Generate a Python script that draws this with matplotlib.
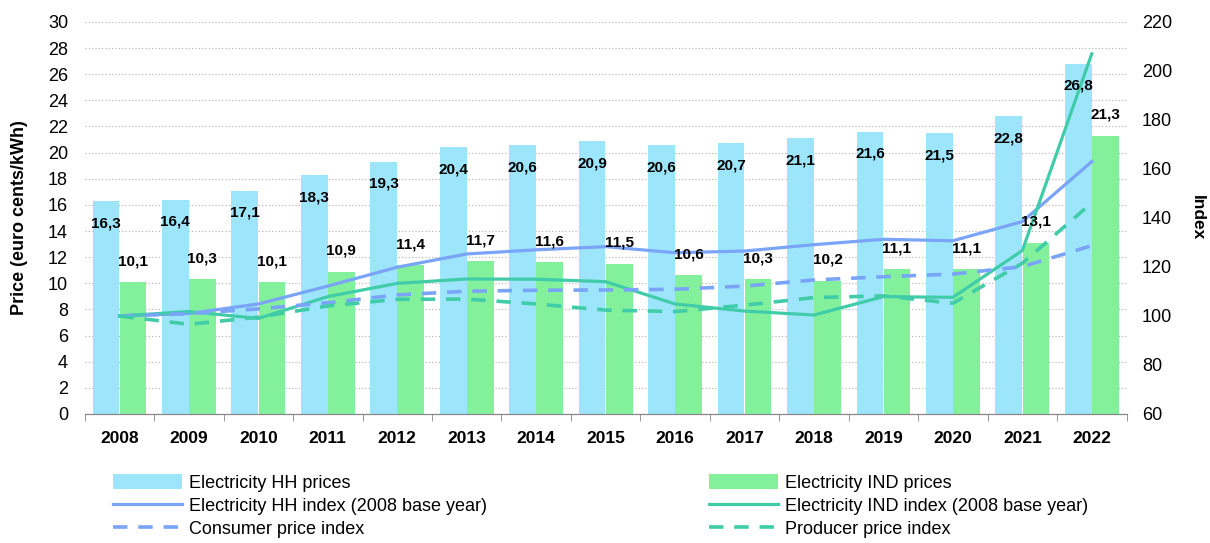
import numpy as np
import matplotlib.pyplot as plt

plt.rcParams['font.family'] = ['Liberation Sans', 'DejaVu Sans']

years = ['2008', '2009', '2010', '2011', '2012', '2013', '2014', '2015',
         '2016', '2017', '2018', '2019', '2020', '2021', '2022']
hh_prices = [16.3, 16.4, 17.1, 18.3, 19.3, 20.4, 20.6, 20.9, 20.6, 20.7, 21.1, 21.6, 21.5, 22.8, 26.8]
ind_prices = [10.1, 10.3, 10.1, 10.9, 11.4, 11.7, 11.6, 11.5, 10.6, 10.3, 10.2, 11.1, 11.1, 13.1, 21.3]
hh_index = [100, 101, 104.9, 112.2, 119.9, 125.3, 127, 128.3, 125.8, 126.5, 129.1, 131.3, 130.7, 138.5, 163]
ind_index = [100, 101.8, 99, 107.9, 113.3, 115.1, 115, 114, 104.9, 102, 100.4, 107.9, 107.6, 126.7, 207]
cpi = [100, 101, 102.9, 105.4, 108.6, 110.1, 110.5, 110.6, 110.9, 112.2, 114.7, 116, 117.1, 120.1, 128.7]
ppi = [100, 96.6, 99.5, 104.1, 106.8, 106.9, 104.9, 102.4, 101.8, 104.4, 107.5, 108.2, 105.2, 121.5, 146.2]

c_hh_bar = '#9de5fb'
c_ind_bar = '#83f19b'
c_hh_line = '#7aa4f7'
c_ind_line = '#40cca8'

fig = plt.figure(figsize=(12.1, 5.43), dpi=100)
ax = fig.add_axes([0.070, 0.2376, 0.861, 0.722])
ax2 = ax.twinx()

x = np.arange(len(years))
w = 0.385
b1 = ax.bar(x - 0.195, hh_prices, w, color=c_hh_bar, label='Electricity HH prices')
b2 = ax.bar(x + 0.195, ind_prices, w, color=c_ind_bar, label='Electricity IND prices')

l1, = ax2.plot(x, hh_index, color=c_hh_line, lw=2.3, label='Electricity HH index (2008 base year)')
l2, = ax2.plot(x, ind_index, color=c_ind_line, lw=2.3, label='Electricity IND index (2008 base year)')
l3, = ax2.plot(x, cpi, color=c_hh_line, lw=2.6, ls=(0, (4, 3)), label='Consumer price index')
l4, = ax2.plot(x, ppi, color=c_ind_line, lw=2.6, ls=(0, (4, 3)), label='Producer price index')

# data labels (drawn on top of the lines)
for i in range(len(years)):
    ax2.annotate(f'{hh_prices[i]:.1f}'.replace('.', ','), (x[i] - 0.195, hh_prices[i]),
                 xycoords=ax.transData, xytext=(0, -16), textcoords='offset points',
                 ha='center', va='center', fontsize=11, fontweight='bold', zorder=10)
    ax2.annotate(f'{ind_prices[i]:.1f}'.replace('.', ','), (x[i] + 0.195, ind_prices[i]),
                 xycoords=ax.transData, xytext=(0, 15), textcoords='offset points',
                 ha='center', va='center', fontsize=11, fontweight='bold', zorder=10)

ax.set_xlim(-0.5, len(years) - 0.5)
ax.set_ylim(0, 30)
ax.set_yticks(np.arange(0, 31, 2))
ax2.set_ylim(60, 220)
ax2.set_yticks(np.arange(60, 221, 20))

ax.set_xticks(x)
ax.set_xticklabels(years, fontweight='bold', fontsize=12.5)
ax.set_xticks(np.arange(-0.5, len(years), 1), minor=True)
ax.tick_params(axis='x', which='major', length=0, pad=12)
ax.tick_params(axis='x', which='minor', length=5, color='#888888')
ax.tick_params(axis='y', length=0, labelsize=13, pad=12)
ax2.tick_params(axis='y', length=0, labelsize=13, pad=11)

ax.yaxis.grid(True, ls=(0, (1, 2)), color='#b0b0b0', lw=0.8)
ax.set_axisbelow(True)

for a in (ax, ax2):
    for s in ['top', 'left', 'right']:
        a.spines[s].set_visible(False)
    a.spines['bottom'].set_color('#888888')

ax.set_ylabel('Price (euro cents/kWh)', fontweight='bold', fontsize=13, labelpad=14)
ax2.set_ylabel('Index', fontweight='bold', fontsize=12.5, rotation=270, labelpad=24)

handles = [b1, l1, l3, b2, l2, l4]
fig.legend(handles, [h.get_label() for h in handles],
           ncol=2, loc='upper left', bbox_to_anchor=(0.0934, 0.127), frameon=False,
           borderpad=0, borderaxespad=0,
           fontsize=13, handlelength=3.8, handleheight=0.9, handletextpad=0.4,
           columnspacing=12.3, labelspacing=0.3)

fig.savefig('out.png', dpi=100)
